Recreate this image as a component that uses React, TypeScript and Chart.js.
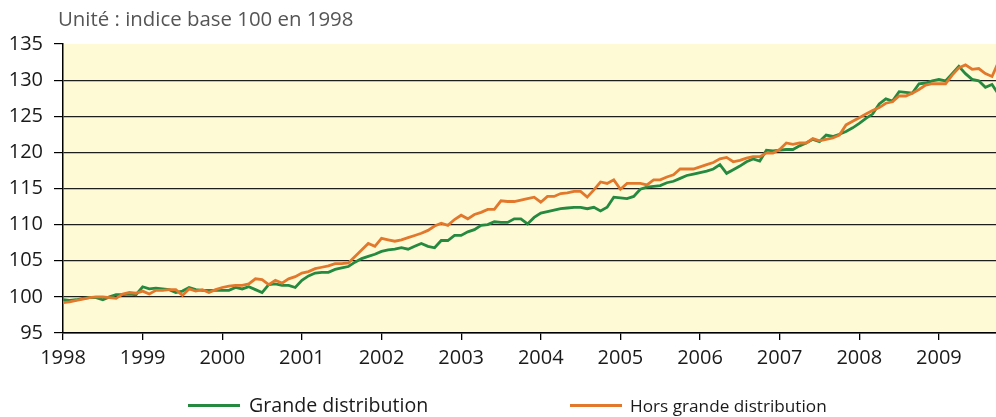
import React, { useEffect, useRef } from 'react';
import { Chart, registerables } from 'chart.js';

Chart.register(...registerables);

// Monthly index values, January 1998 to October 2009 (base 100 in 1998)
const YEARS = ['1998', '1999', '2000', '2001', '2002', '2003', '2004', '2005', '2006', '2007', '2008', '2009'];

const GRANDE_DISTRIBUTION = [
  // 1998
  99.6, 99.5, 99.6, 99.8, 99.9, 99.9, 99.6, 100.0, 100.3, 100.3, 100.4, 100.3,
  // 1999
  101.4, 101.1, 101.2, 101.1, 101.0, 100.6, 100.8, 101.3, 101.0, 100.9, 100.9, 100.9,
  // 2000
  100.9, 100.9, 101.3, 101.1, 101.4, 101.0, 100.6, 101.7, 101.8, 101.6, 101.6, 101.3,
  // 2001
  102.3, 102.9, 103.3, 103.4, 103.4, 103.8, 104.0, 104.2, 104.8, 105.3, 105.6, 105.9,
  // 2002
  106.3, 106.5, 106.6, 106.8, 106.6, 107.0, 107.4, 107.0, 106.8, 107.8, 107.8, 108.5,
  // 2003
  108.5, 109.0, 109.3, 109.9, 110.0, 110.4, 110.3, 110.3, 110.8, 110.8, 110.1, 111.0,
  // 2004
  111.6, 111.8, 112.0, 112.2, 112.3, 112.4, 112.4, 112.2, 112.4, 111.9, 112.4, 113.8,
  // 2005
  113.7, 113.6, 113.9, 114.9, 115.2, 115.3, 115.4, 115.8, 116.0, 116.4, 116.8, 117.0,
  // 2006
  117.2, 117.4, 117.7, 118.3, 117.1, 117.6, 118.1, 118.7, 119.1, 118.8, 120.3, 120.2,
  // 2007
  120.3, 120.4, 120.4, 120.9, 121.3, 121.8, 121.5, 122.4, 122.2, 122.5, 122.9, 123.4,
  // 2008
  124.0, 124.7, 125.3, 126.7, 127.4, 127.1, 128.4, 128.3, 128.2, 129.5, 129.6, 129.9,
  // 2009
  130.1, 129.9, 130.9, 131.9, 130.9, 130.1, 129.9, 129.0, 129.4, 128.0,
];

const HORS_GRANDE_DISTRIBUTION = [
  // 1998
  99.2, 99.3, 99.5, 99.7, 99.9, 100.0, 100.0, 99.9, 99.8, 100.4, 100.6, 100.5,
  // 1999
  100.8, 100.4, 100.9, 100.9, 101.0, 101.0, 100.2, 101.1, 100.8, 101.0, 100.6, 101.0,
  // 2000
  101.3, 101.5, 101.6, 101.6, 101.8, 102.5, 102.4, 101.7, 102.3, 101.9, 102.5, 102.8,
  // 2001
  103.3, 103.5, 103.9, 104.1, 104.3, 104.6, 104.6, 104.7, 105.6, 106.5, 107.4, 107.0,
  // 2002
  108.1, 107.9, 107.7, 107.9, 108.2, 108.5, 108.8, 109.2, 109.8, 110.2, 109.9, 110.7,
  // 2003
  111.3, 110.8, 111.4, 111.7, 112.1, 112.1, 113.3, 113.2, 113.2, 113.4, 113.6, 113.8,
  // 2004
  113.1, 113.9, 113.9, 114.3, 114.4, 114.6, 114.6, 113.8, 114.8, 115.9, 115.7, 116.2,
  // 2005
  114.9, 115.7, 115.7, 115.7, 115.5, 116.2, 116.2, 116.6, 116.9, 117.7, 117.7, 117.7,
  // 2006
  118.0, 118.3, 118.6, 119.1, 119.3, 118.7, 118.9, 119.2, 119.4, 119.4, 119.9, 119.9,
  // 2007
  120.4, 121.3, 121.1, 121.3, 121.3, 121.9, 121.6, 121.8, 122.0, 122.4, 123.8, 124.3,
  // 2008
  124.8, 125.3, 125.8, 126.2, 126.8, 127.0, 127.8, 127.8, 128.2, 128.7, 129.3, 129.5,
  // 2009
  129.5, 129.5, 130.7, 131.7, 132.1, 131.5, 131.6, 130.9, 130.5, 132.6,
];

const SERIES_NAMES = ['Grande distribution', 'Hors grande distribution'];
const TITLE = 'Unité : indice base 100 en 1998';

const GREEN = '#25893f';
const ORANGE = '#e2782c';
const FONT = '"Open Sans", "DejaVu Sans", sans-serif';

export default function App() {
  const ref = useRef<HTMLCanvasElement | null>(null);

  useEffect(() => {
    const bgPlugin = {
      id: 'plotBackground',
      beforeDraw(chart: any) {
        const { ctx, chartArea: a } = chart;
        ctx.save();
        ctx.fillStyle = '#fffad6';
        ctx.fillRect(a.left, a.top, a.right - a.left, a.bottom - a.top);
        ctx.restore();
      },
    };

    const chart = new Chart(ref.current as HTMLCanvasElement, {
      type: 'line',
      data: {
        datasets: [
          {
            label: SERIES_NAMES[0],
            data: GRANDE_DISTRIBUTION.map((y, i) => ({ x: i, y })),
            borderColor: GREEN,
            backgroundColor: GREEN,
            borderWidth: 2.8,
            pointRadius: 0,
            tension: 0,
            order: 1,
            clip: 0,
          },
          {
            label: SERIES_NAMES[1],
            data: HORS_GRANDE_DISTRIBUTION.map((y, i) => ({ x: i, y })),
            borderColor: ORANGE,
            backgroundColor: ORANGE,
            borderWidth: 2.8,
            pointRadius: 0,
            tension: 0,
            order: 0,
            clip: 0,
          },
        ],
      },
      options: {
        responsive: false,
        animation: false,
        events: [],
        layout: { padding: { top: 44, right: 0, bottom: 44, left: 0 } },
        plugins: {
          legend: { display: false },
          tooltip: { enabled: false },
          title: { display: false },
        },
        scales: {
          x: {
            type: 'linear',
            min: 0,
            max: 140.6,
            afterFit: (s: any) => {
              s.height = 40;
            },
            ticks: {
              stepSize: 12,
              includeBounds: false,
              autoSkip: false,
              maxRotation: 0,
              padding: 6,
              color: '#1a1a1a',
              font: { family: FONT, size: 20 },
              callback: (v: any) => {
                const k = Math.round(Number(v) / 12);
                return Number(v) % 12 === 0 ? YEARS[k] ?? '' : '';
              },
            },
            grid: {
              drawOnChartArea: false,
              drawTicks: true,
              tickLength: 7,
              color: '#000',
              lineWidth: 1.3,
            },
            border: { display: true, color: '#000', width: 1.5 },
          },
          y: {
            min: 95,
            max: 135,
            afterFit: (s: any) => {
              s.width = 63;
            },
            ticks: {
              stepSize: 5,
              padding: 11,
              color: '#1a1a1a',
              font: { family: FONT, size: 20 },
            },
            grid: {
              color: (ctx: any) => (ctx.tick && ctx.tick.value === 135 ? 'rgba(0,0,0,0)' : '#1e1e1e'),
              tickColor: '#000',
              tickLength: 9,
              lineWidth: 1.2,
            },
            border: { display: true, color: '#000', width: 1.5 },
          },
        },
      },
      plugins: [bgPlugin],
    } as any);

    return () => chart.destroy();
  }, []);

  return (
    <div style={{ position: 'absolute', left: 0, top: 0, width: 996, height: 417, background: '#ffffff', overflow: 'hidden' }}>
      <canvas ref={ref} width={996} height={417} style={{ display: 'block', width: 996, height: 417 }} />
      <div
        style={{
          position: 'absolute',
          left: 58,
          top: 5,
          fontFamily: FONT,
          fontSize: 20.4,
          lineHeight: '26px',
          color: '#555555',
          whiteSpace: 'nowrap',
        }}
      >
        {TITLE}
      </div>
      <div style={{ position: 'absolute', left: 188, top: 404, width: 52, height: 3, background: GREEN }} />
      <div
        style={{
          position: 'absolute',
          left: 249,
          top: 395,
          fontFamily: FONT,
          fontSize: 19.6,
          lineHeight: '19px',
          color: '#1a1a1a',
          whiteSpace: 'nowrap',
        }}
      >
        {SERIES_NAMES[0]}
      </div>
      <div style={{ position: 'absolute', left: 570, top: 404, width: 52, height: 3, background: ORANGE }} />
      <div
        style={{
          position: 'absolute',
          left: 630,
          top: 397,
          fontFamily: FONT,
          fontSize: 17.2,
          lineHeight: '17px',
          color: '#1a1a1a',
          whiteSpace: 'nowrap',
        }}
      >
        {SERIES_NAMES[1]}
      </div>
    </div>
  );
}
